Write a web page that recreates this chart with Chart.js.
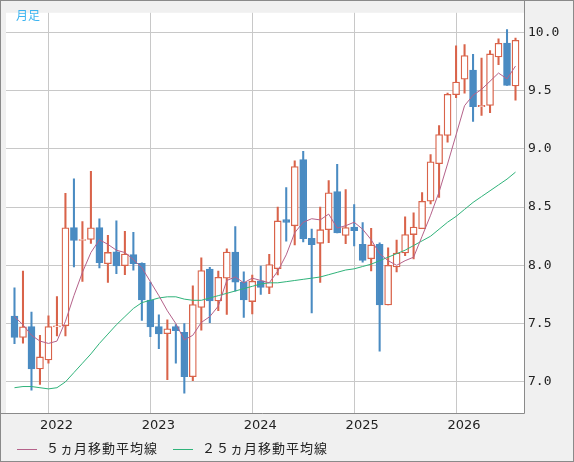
<!DOCTYPE html>
<html>
<head>
<meta charset="utf-8">
<script src="https://cdn.jsdelivr.net/npm/chart.js@4/dist/chart.umd.min.js"></script>
<style>
  html, body { margin: 0; padding: 0; background: #f0f0f0; }
  #wrap { position: relative; width: 574px; height: 462px; box-sizing: border-box; border: 1px solid #8a8a8a; background: #f0f0f0; overflow: hidden; }
  #c { position: absolute; left: 0; top: 0; }
  #title { position: absolute; left: 15px; top: 5px; font: 12px "Noto Sans CJK JP", sans-serif; color: #3cb4f0; }
  #legend { position: absolute; left: 16px; top: 437px; font: 13px "Noto Sans CJK JP", sans-serif; color: #222; white-space: nowrap; }
  #legend span.ln { display: inline-block; width: 20px; height: 0; border-top: 1px solid; vertical-align: middle; margin-right: 9px; }
  #legend span.it { margin-right: 12px; letter-spacing: 1px; }
</style>
</head>
<body>
<div id="wrap">
  <canvas id="c" width="572" height="460"></canvas>
  <div id="title">月足</div>
  <div id="legend">
    <span class="ln" style="border-color:#b5628a"></span><span class="it">５ヵ月移動平均線</span>
    <span class="ln" style="border-color:#2fb37a"></span><span class="it">２５ヵ月移動平均線</span>
  </div>
</div>
<script>
// monthly candles, Sep 2021 .. Aug 2026
const START_YEAR = 2021, START_MONTH = 9;
const opens  = [7.564,7.381,7.475,7.111,7.189,7.472,7.481,8.325,8.214,8.222,8.325,8.014,8.117,7.997,8.092,8.017,7.703,7.475,7.414,7.475,
                7.425,7.044,7.639,7.967,7.694,7.889,8.114,7.856,7.689,7.867,7.811,7.972,8.392,8.339,8.908,8.231,8.189,8.306,8.633,8.256,
                8.328,8.181,8.056,8.181,7.661,7.986,8.106,8.264,8.314,8.55,8.872,9.114,9.464,9.597,9.675,9.361,9.372,9.789,9.908,9.539];
const closes = [7.381,7.472,7.111,7.214,7.475,7.481,8.322,8.214,8.222,8.322,8.022,8.111,7.994,8.097,8.014,7.703,7.472,7.411,7.456,7.439,
                7.044,7.664,7.956,7.694,7.897,8.114,7.856,7.703,7.864,7.811,8.006,8.381,8.369,8.847,8.228,8.178,8.306,8.622,8.278,8.325,
                8.297,8.042,8.175,7.661,8.0,8.106,8.264,8.328,8.55,8.889,9.122,9.467,9.572,9.8,9.361,9.372,9.814,9.906,9.544,9.931];
const highs  = [7.806,7.95,7.6,7.40,7.567,7.733,8.617,8.742,8.375,8.806,8.4,8.258,8.383,8.292,8.283,8.022,7.856,7.575,7.533,7.492,
                7.5,7.825,8.064,7.983,7.95,8.142,8.333,7.944,7.917,7.994,8.094,8.5,8.667,8.897,8.978,8.311,8.5,8.728,8.867,8.65,
                8.522,8.367,8.317,8.194,8.15,8.217,8.417,8.45,8.625,8.95,9.2,9.478,9.883,9.894,9.811,9.778,9.842,9.944,10.022,9.95];
const lows   = [7.328,7.333,6.928,6.978,7.161,7.394,7.394,7.986,7.861,8.189,7.978,7.853,7.928,7.92,7.958,7.528,7.389,7.286,7.019,7.161,
                6.903,7.011,7.444,7.508,7.611,7.578,7.778,7.553,7.583,7.75,7.756,7.917,8.208,8.175,8.2,7.592,7.853,8.194,8.278,8.186,
                8.167,8.028,7.953,7.264,7.661,7.944,8.083,8.056,8.314,8.528,8.583,9.056,9.439,9.478,9.236,9.286,9.311,9.722,9.544,9.417];
const ma5  = [7.56,7.49,7.40,7.35,7.33,7.35,7.52,7.74,7.94,8.11,8.22,8.18,8.13,8.11,8.05,7.98,7.86,7.74,7.61,7.50,
              7.36,7.40,7.51,7.56,7.65,7.87,7.90,7.85,7.89,7.87,7.85,7.95,8.09,8.28,8.37,8.40,8.39,8.44,8.32,8.34,
              8.37,8.31,8.22,8.10,8.04,8.00,8.04,8.07,8.25,8.43,8.63,8.87,9.12,9.37,9.46,9.51,9.58,9.65,9.60,9.71];
const ma25 = [6.95,6.96,6.96,6.95,6.94,6.95,7.00,7.08,7.16,7.24,7.33,7.41,7.49,7.56,7.63,7.68,7.70,7.72,7.73,7.73,
              7.71,7.70,7.70,7.72,7.74,7.76,7.78,7.80,7.82,7.84,7.85,7.85,7.86,7.87,7.88,7.89,7.90,7.92,7.94,7.96,
              7.97,7.99,8.01,8.04,8.07,8.10,8.13,8.17,8.21,8.25,8.31,8.37,8.42,8.48,8.54,8.59,8.64,8.69,8.74,8.80];

const RED = '#d9634a', BLUE = '#4a8bc2';

/* ---------- labels (one empty slot on each side) ---------- */
const labels = [];
for (let i = -1; i <= opens.length; i++) {
  const m = START_MONTH - 1 + i;
  const y = START_YEAR + Math.floor(m / 12);
  labels.push(y + '-' + String((m % 12 + 12) % 12 + 1).padStart(2, '0'));
}
const pad = (arr) => [null, ...arr, null];
const up = opens.map((o, i) => closes[i] >= o);

const bg = {
  id: 'bg',
  beforeDraw(chart) {
    const { ctx, chartArea: a } = chart;
    ctx.save();
    ctx.fillStyle = '#fff';
    ctx.fillRect(a.left, a.top, a.right - a.left, a.bottom - a.top);
    ctx.restore();
  },
  afterDraw(chart) {
    const { ctx, chartArea: a } = chart;
    ctx.save();
    ctx.strokeStyle = '#8a8a8a'; ctx.lineWidth = 1;
    ctx.beginPath();
    ctx.moveTo(a.right + 0.5, 0); ctx.lineTo(a.right + 0.5, a.bottom + 0.5);
    ctx.lineTo(0, a.bottom + 0.5);
    ctx.stroke();
    ctx.restore();
  }
};

new Chart(document.getElementById('c'), {
  type: 'bar',
  data: {
    labels,
    datasets: [
      { type: 'line', data: pad(ma5), borderColor: '#b5628a', borderWidth: 1, pointRadius: 0, order: 0 },
      { type: 'line', data: pad(ma25), borderColor: '#2fb37a', borderWidth: 1, pointRadius: 0, order: 0 },
      { data: pad(opens.map((o, i) => [o, closes[i]])),
        backgroundColor: pad(up.map(u => u ? '#fff' : BLUE)),
        borderColor: pad(up.map(u => u ? RED : BLUE)),
        borderWidth: 1.3, borderSkipped: false, barThickness: 7, grouped: false, order: 1 },
      { data: pad(lows.map((l, i) => [l, highs[i]])),
        backgroundColor: pad(up.map(u => u ? RED : BLUE)),
        borderWidth: 0, barThickness: 1.4, grouped: false, order: 2 }
    ]
  },
  options: {
    responsive: false,
    animation: false,
    layout: { padding: { left: -8, top: -16, right: 0, bottom: 0 } },
    plugins: { legend: { display: false }, tooltip: { enabled: false } },
    scales: {
      x: {
        offset: false,
        grid: { offset: false, color: (c) => (labels[c.index] || '').endsWith('-01') ? '#c8c8c8' : 'rgba(0,0,0,0)', drawTicks: false },
        border: { display: false },
        afterFit: (s) => { s.height = 48; },
        ticks: {
          autoSkip: false, maxRotation: 0, padding: 5, labelOffset: 8,
          color: '#222', font: { family: 'DejaVu Sans', size: 13 },
          callback: (v, i) => labels[i].endsWith('-01') ? labels[i].slice(0, 4) : ''
        }
      },
      y: {
        position: 'right',
        min: 6.733, max: 10.167,
        afterFit: (s) => { s.width = 49; },
        afterBuildTicks: (s) => { s.ticks = [7, 7.5, 8, 8.5, 9, 9.5, 10].map(v => ({ value: v })); },
        grid: { color: '#c8c8c8', drawTicks: false },
        border: { display: false },
        ticks: {
          padding: 4, color: '#222', font: { family: 'DejaVu Sans Mono', size: 13 },
          callback: (v) => Number(v).toFixed(1)
        }
      }
    }
  },
  plugins: [bg]
});
</script>
</body>
</html>
